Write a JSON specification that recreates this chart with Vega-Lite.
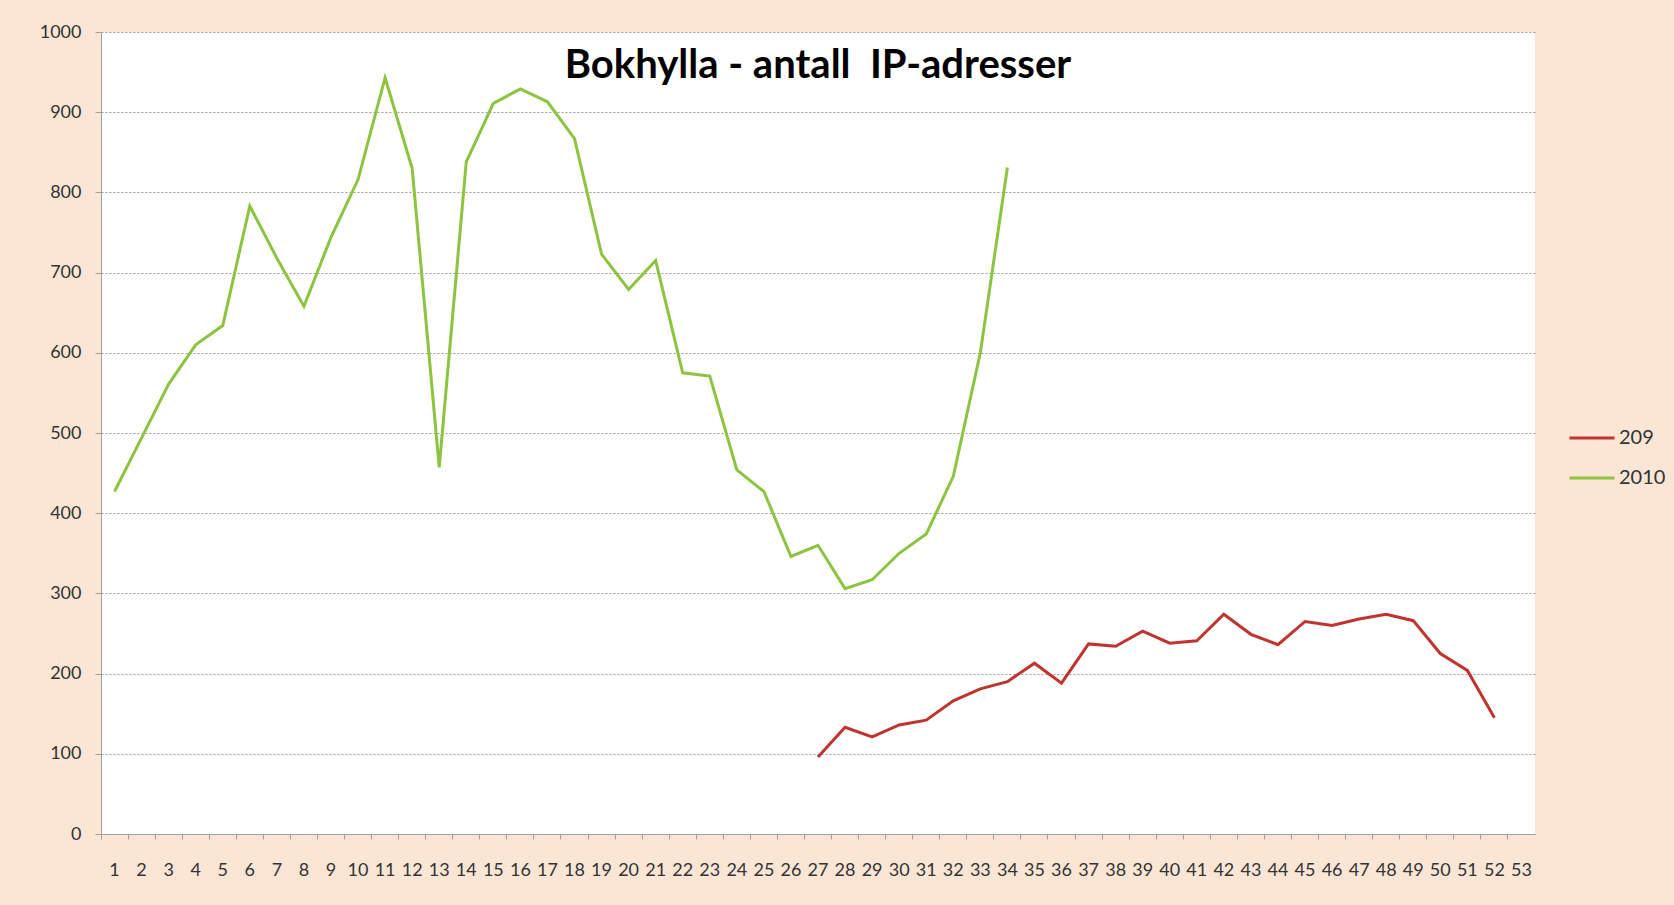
{
  "$schema": "https://vega.github.io/schema/vega-lite/v6.json",
  "width": 1434,
  "height": 802,
  "autosize": {"type": "none"},
  "padding": {"left": 101, "top": 32, "right": 139, "bottom": 71},
  "background": "#fbe6d6",
  "title": {
    "text": "Bokhylla - antall \u00a0IP-adresser",
    "font": "Lato",
    "fontWeight": "bold",
    "fontSize": 40,
    "color": "#000000",
    "anchor": "middle",
    "orient": "top",
    "baseline": "alphabetic",
    "offset": -95
  },
  "config": {
    "view": {"fill": "#ffffff", "stroke": null},
    "axis": {"labelFont": "Lato", "labelColor": "#333333", "labelFontSize": 18, "domainColor": "#a0a0a0", "tickColor": "#a0a0a0", "title": null}
  },
  "data": {
    "values": [
      {"week": 1, "series": "2010", "value": 427},
      {"week": 2, "series": "2010", "value": 494},
      {"week": 3, "series": "2010", "value": 561},
      {"week": 4, "series": "2010", "value": 610},
      {"week": 5, "series": "2010", "value": 634},
      {"week": 6, "series": "2010", "value": 783},
      {"week": 7, "series": "2010", "value": 718},
      {"week": 8, "series": "2010", "value": 658},
      {"week": 9, "series": "2010", "value": 744},
      {"week": 10, "series": "2010", "value": 816},
      {"week": 11, "series": "2010", "value": 943},
      {"week": 12, "series": "2010", "value": 830},
      {"week": 13, "series": "2010", "value": 457},
      {"week": 14, "series": "2010", "value": 838},
      {"week": 15, "series": "2010", "value": 911},
      {"week": 16, "series": "2010", "value": 929},
      {"week": 17, "series": "2010", "value": 913},
      {"week": 18, "series": "2010", "value": 867},
      {"week": 19, "series": "2010", "value": 723},
      {"week": 20, "series": "2010", "value": 679},
      {"week": 21, "series": "2010", "value": 715},
      {"week": 22, "series": "2010", "value": 575},
      {"week": 23, "series": "2010", "value": 571},
      {"week": 24, "series": "2010", "value": 454},
      {"week": 25, "series": "2010", "value": 427},
      {"week": 26, "series": "2010", "value": 346},
      {"week": 27, "series": "2010", "value": 360},
      {"week": 28, "series": "2010", "value": 306},
      {"week": 29, "series": "2010", "value": 317},
      {"week": 30, "series": "2010", "value": 350},
      {"week": 31, "series": "2010", "value": 374},
      {"week": 32, "series": "2010", "value": 446},
      {"week": 33, "series": "2010", "value": 600},
      {"week": 34, "series": "2010", "value": 831},
      {"week": 27, "series": "209", "value": 96},
      {"week": 28, "series": "209", "value": 133},
      {"week": 29, "series": "209", "value": 121},
      {"week": 30, "series": "209", "value": 136},
      {"week": 31, "series": "209", "value": 142},
      {"week": 32, "series": "209", "value": 166},
      {"week": 33, "series": "209", "value": 181},
      {"week": 34, "series": "209", "value": 190},
      {"week": 35, "series": "209", "value": 213},
      {"week": 36, "series": "209", "value": 188},
      {"week": 37, "series": "209", "value": 237},
      {"week": 38, "series": "209", "value": 234},
      {"week": 39, "series": "209", "value": 253},
      {"week": 40, "series": "209", "value": 238},
      {"week": 41, "series": "209", "value": 241},
      {"week": 42, "series": "209", "value": 274},
      {"week": 43, "series": "209", "value": 249},
      {"week": 44, "series": "209", "value": 236},
      {"week": 45, "series": "209", "value": 265},
      {"week": 46, "series": "209", "value": 260},
      {"week": 47, "series": "209", "value": 268},
      {"week": 48, "series": "209", "value": 274},
      {"week": 49, "series": "209", "value": 266},
      {"week": 50, "series": "209", "value": 225},
      {"week": 51, "series": "209", "value": 204},
      {"week": 52, "series": "209", "value": 145}
    ]
  },
  "mark": {"type": "line", "strokeWidth": 3},
  "encoding": {
    "x": {
      "field": "week",
      "type": "ordinal",
      "bandPosition": 0.5,
      "scale": {"type": "band", "paddingInner": 0, "paddingOuter": 0, "domain": [1,2,3,4,5,6,7,8,9,10,11,12,13,14,15,16,17,18,19,20,21,22,23,24,25,26,27,28,29,30,31,32,33,34,35,36,37,38,39,40,41,42,43,44,45,46,47,48,49,50,51,52,53]},
      "axis": {"bandPosition": 0, "labelAngle": 0, "tickSize": 5, "labelPadding": 22, "grid": false}
    },
    "y": {
      "field": "value",
      "type": "quantitative",
      "scale": {"domain": [0, 1000], "nice": false},
      "axis": {"values": [0,100,200,300,400,500,600,700,800,900,1000], "format": "d", "tickSize": 6, "labelPadding": 14, "grid": true, "gridColor": "#9a9a9a", "gridDash": [2, 2], "gridWidth": 1}
    },
    "color": {
      "field": "series",
      "type": "nominal",
      "scale": {"domain": ["209", "2010"], "range": ["#c0332e", "#8cc43f"]},
      "legend": {
        "orient": "none",
        "legendX": 1467,
        "legendY": 382,
        "title": null,
        "symbolType": "stroke",
        "symbolSize": 2025,
        "symbolStrokeWidth": 3,
        "labelFont": "Lato",
        "labelFontSize": 20,
        "labelColor": "#333333",
        "rowPadding": 6,
        "labelOffset": 3,
        "padding": 0
      }
    }
  }
}
